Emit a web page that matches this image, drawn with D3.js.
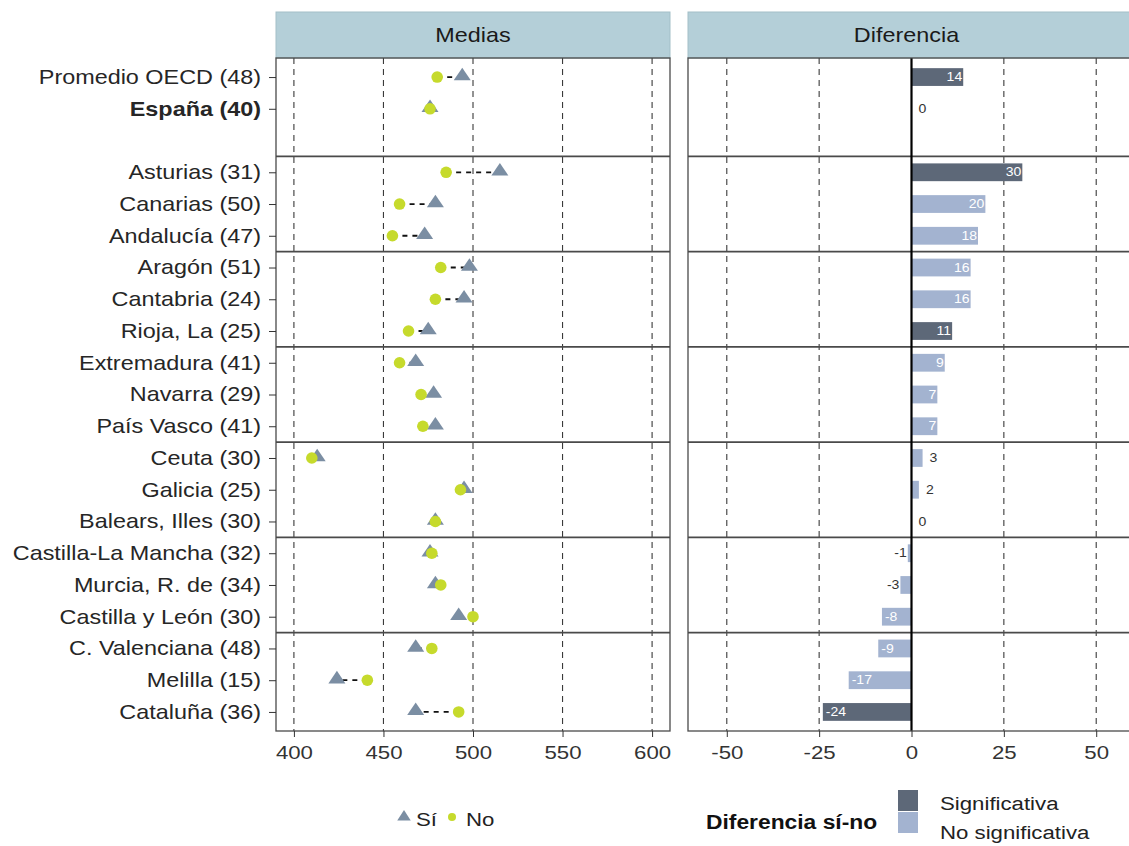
<!DOCTYPE html>
<html>
<head>
<meta charset="utf-8">
<script src="https://cdn.jsdelivr.net/npm/d3@7"></script>
<style>
  html, body { margin: 0; padding: 0; background: #fff; }
  svg { display: block; font-family: "Liberation Sans", Arial, sans-serif; }
</style>
</head>
<body>
<svg id="chart" width="1129" height="846"></svg>
<script>
// ---------------- DATA ----------------
const categories = [
  "Promedio OECD (48)", "España (40)",
  "Asturias (31)", "Canarias (50)", "Andalucía (47)",
  "Aragón (51)", "Cantabria (24)", "Rioja, La (25)",
  "Extremadura (41)", "Navarra (29)", "País Vasco (41)",
  "Ceuta (30)", "Galicia (25)", "Balears, Illes (30)",
  "Castilla-La Mancha (32)", "Murcia, R. de (34)", "Castilla y León (30)",
  "C. Valenciana (48)", "Melilla (15)", "Cataluña (36)"
];
const siValues = [494, 476, 515, 479, 473, 498, 495, 475, 468, 478, 479, 413, 495, 479, 476, 479, 492, 468, 424, 468];
const noValues = [480, 476, 485, 459, 455, 482, 479, 464, 459, 471, 472, 410, 493, 479, 477, 482, 500, 477, 441, 492];
const diffValues = [14, 0, 30, 20, 18, 16, 16, 11, 9, 7, 7, 3, 2, 0, -1, -3, -8, -9, -17, -24];
const significant = [true, false, true, false, false, false, false, true, false, false, false, false, false, false, false, false, false, false, false, true];
const meanTicks = [400, 450, 500, 550, 600];
const diffTicks = [-50, -25, 0, 25, 50];
const panelTitles = ["Medias", "Diferencia"];
const seriesLabels = ["Sí", "No"];
const sigLabels = ["Significativa", "No significativa"];
const legendTitle = "Diferencia sí-no";
const boldCategory = "España (40)";
const gapAfter = 2;        // blank row after first two rows
const groupSize = 3;       // separator every three rows

// ---------------- LAYOUT ----------------
const SX = 1.17; // horizontal stretch of text
const colSi = "#7b8ea3", colNo = "#c6da2c";
const colSig = "#5d6878", colNs = "#a3b3d0";
const stripFill = "#b4cfd8";

const svg = d3.select("#chart");
const pTop = 58, pBottom = 731, stripTop = 12;
const L = {x0: 276, x1: 670}, R = {x0: 688, x1: 1135};

const rowKeys = categories.slice(0, gapAfter).concat(["__gap__"], categories.slice(gapAfter));
const y = d3.scalePoint().domain(rowKeys).range([pTop, pBottom]).padding(0.6);
const xL = d3.scaleLinear().domain([390, 610]).range([L.x0, L.x1]);
const xR = d3.scaleLinear().domain([-60.5, 60.5]).range([R.x0, R.x1]);

const rows = categories.map((c, i) => ({
  cat: c, si: siValues[i], no: noValues[i], diff: diffValues[i], sig: significant[i]
}));

function stretchText(sel, x, yy) {
  sel.attr("transform", `translate(${x},${yy}) scale(${SX},1)`);
}

// strips
[[L, panelTitles[0]], [R, panelTitles[1]]].forEach(([p, t]) => {
  svg.append("rect").attr("x", p.x0).attr("y", stripTop)
    .attr("width", p.x1 - p.x0).attr("height", pTop - stripTop)
    .attr("fill", stripFill).attr("stroke", "#a3bfc8").attr("stroke-width", 1);
  svg.append("text").text(t).attr("text-anchor", "middle")
    .attr("font-size", 20).attr("fill", "#1a1a1a")
    .call(stretchText, (p.x0 + Math.min(p.x1, 1129)) / 2 + (p === R ? -2 : 0), 42);
});

// gridlines
const gridG = svg.append("g");
meanTicks.forEach(t => {
  gridG.append("line").attr("x1", xL(t)).attr("x2", xL(t)).attr("y1", pTop).attr("y2", pBottom)
    .attr("stroke", "#3a3a3a").attr("stroke-width", 1.1).attr("stroke-dasharray", "6,5");
});
diffTicks.filter(t => t !== 0).forEach(t => {
  gridG.append("line").attr("x1", xR(t)).attr("x2", xR(t)).attr("y1", pTop).attr("y2", pBottom)
    .attr("stroke", "#3a3a3a").attr("stroke-width", 1.1).attr("stroke-dasharray", "6,5");
});

// separators
const step = y.step();
const sepRows = [];
for (let i = gapAfter; i < rowKeys.length - 1; i += groupSize) sepRows.push(i);
sepRows.forEach(i => {
  const yy = y(rowKeys[i]) + step / 2;
  [L, R].forEach(p => {
    svg.append("line").attr("x1", p.x0).attr("x2", p.x1).attr("y1", yy).attr("y2", yy)
      .attr("stroke", "#4a4a4a").attr("stroke-width", 1.6);
  });
});

// ---------- Left panel: dumbbells ----------
const gL = svg.append("g");
gL.selectAll("line.conn").data(rows).join("line").attr("class", "conn")
  .attr("x1", d => xL(d.no)).attr("x2", d => xL(d.si))
  .attr("y1", d => y(d.cat)).attr("y2", d => y(d.cat))
  .attr("stroke", "#111").attr("stroke-width", 1.8).attr("stroke-dasharray", "5,5");
const tri = d3.symbol().type(d3.symbolTriangle).size(100);
gL.selectAll("path.si").data(rows).join("path").attr("class", "si")
  .attr("d", tri)
  .attr("transform", d => `translate(${xL(d.si)},${y(d.cat) - 1}) scale(1.12,0.95)`)
  .attr("fill", colSi);
gL.selectAll("circle.no").data(rows).join("circle").attr("class", "no")
  .attr("cx", d => xL(d.no)).attr("cy", d => y(d.cat)).attr("r", 5.8)
  .attr("fill", colNo);

// ---------- Right panel: bars ----------
const gR = svg.append("g");
const bh = step * 0.56;
gR.selectAll("rect.bar").data(rows).join("rect").attr("class", "bar")
  .attr("x", d => xR(Math.min(0, d.diff))).attr("width", d => Math.abs(xR(d.diff) - xR(0)))
  .attr("y", d => y(d.cat) - bh / 2).attr("height", bh)
  .attr("fill", d => d.sig ? colSig : colNs);
// zero line
svg.append("line").attr("x1", xR(0)).attr("x2", xR(0)).attr("y1", pTop).attr("y2", pBottom)
  .attr("stroke", "#000").attr("stroke-width", 2.2);
// bar labels
gR.selectAll("text.lab").data(rows).join("text").attr("class", "lab")
  .text(d => d.diff)
  .attr("font-size", 12)
  .attr("dy", "0.35em")
  .attr("fill", d => Math.abs(d.diff) >= 5 ? "#ffffff" : "#333333")
  .attr("text-anchor", d => {
    const inside = Math.abs(d.diff) >= 5;
    if (d.diff >= 0) return inside ? "end" : "start";
    return inside ? "start" : "end";
  })
  .attr("transform", d => {
    const inside = Math.abs(d.diff) >= 5;
    const e = xR(d.diff);
    let xx;
    if (d.diff >= 0) xx = inside ? e - 1 : e + 7;
    else xx = inside ? e + 3 : e - 1;
    return `translate(${xx},${y(d.cat)}) scale(${SX},1)`;
  });

// panel borders
[L, R].forEach(p => {
  svg.append("rect").attr("x", p.x0).attr("y", pTop).attr("width", p.x1 - p.x0).attr("height", pBottom - pTop)
    .attr("fill", "none").attr("stroke", "#4a4a4a").attr("stroke-width", 1.3);
});

// ---------- Axes ----------
const yAxis = d3.axisLeft(y).tickValues(categories).tickSize(7).tickPadding(8);
const gy = svg.append("g").attr("transform", `translate(${L.x0},0)`).call(yAxis);
gy.select(".domain").remove();
gy.selectAll(".tick line").attr("stroke", "#333");
gy.selectAll(".tick text")
  .attr("font-size", 20).attr("font-family", "Liberation Sans, Arial, sans-serif")
  .attr("fill", "#262626")
  .attr("font-weight", d => d === boldCategory ? "bold" : "normal")
  .attr("x", -15 / SX)
  .attr("transform", `scale(${SX},1)`);

function bottomAxis(scale, ticks, fmt) {
  const ax = d3.axisBottom(scale).tickValues(ticks).tickSize(6).tickPadding(9).tickFormat(fmt);
  const g = svg.append("g").attr("transform", `translate(0,${pBottom})`).call(ax);
  g.select(".domain").remove();
  g.selectAll(".tick line").attr("stroke", "#333");
  g.selectAll(".tick text").attr("font-size", 19).attr("font-family", "Liberation Sans, Arial, sans-serif")
    .attr("fill", "#333").attr("transform", `scale(${SX},1)`);
  return g;
}
bottomAxis(xL, meanTicks, d3.format("d"));
bottomAxis(xR, diffTicks, d => String(d));

// ---------- Legend ----------
const lg = svg.append("g");
lg.append("path").attr("d", d3.symbol().type(d3.symbolTriangle).size(65))
  .attr("transform", "translate(404,817) scale(1.1,1)").attr("fill", colSi);
lg.append("text").text(seriesLabels[0]).attr("font-size", 19).attr("fill", "#222").call(stretchText, 416, 826);
lg.append("circle").attr("cx", 452).attr("cy", 817).attr("r", 4).attr("fill", colNo);
lg.append("text").text(seriesLabels[1]).attr("font-size", 19).attr("fill", "#222").call(stretchText, 466, 826);

lg.append("text").text(legendTitle).attr("font-size", 19.5).attr("font-weight", "bold").attr("fill", "#111")
  .call(stretchText, 706, 829);
[colSig, colNs].forEach((c, i) => {
  lg.append("rect").attr("x", 898).attr("y", 790 + i * 22).attr("width", 20).attr("height", 21).attr("fill", c);
  lg.append("text").text(sigLabels[i]).attr("font-size", 19).attr("fill", "#222")
    .call(stretchText, 940, 810 + i * 29);
});
</script>
</body>
</html>
